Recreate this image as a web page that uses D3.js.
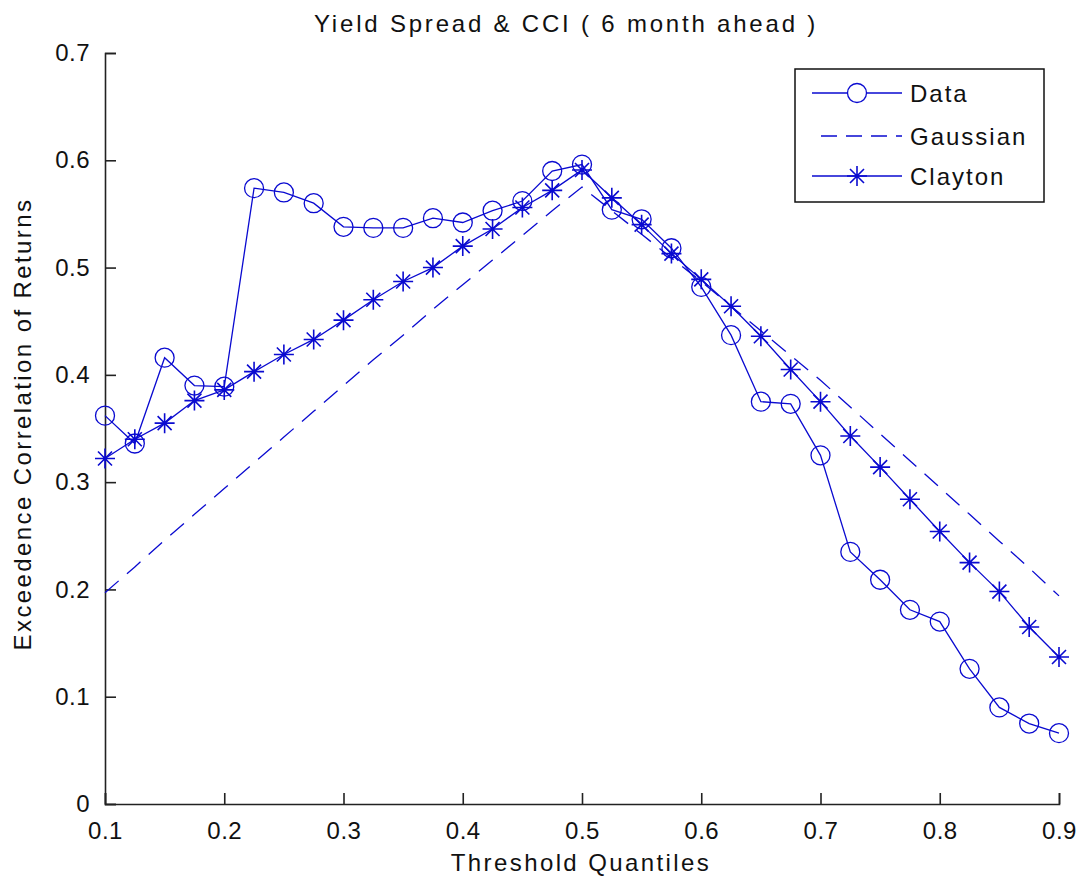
<!DOCTYPE html>
<html>
<head>
<meta charset="utf-8">
<script src="https://cdn.jsdelivr.net/npm/d3@7"></script>
<style>
  body { margin: 0; background: #fff; }
  text { font-family: "Liberation Sans", Arial, sans-serif; fill: #111; }
</style>
</head>
<body>
<script>
// chart size
let width = 1083,
  height = 882

// threshold quantiles (x)
const quantiles = [0.1, 0.125, 0.15, 0.175, 0.2, 0.225, 0.25, 0.275, 0.3, 0.325, 0.35,
  0.375, 0.4, 0.425, 0.45, 0.475, 0.5, 0.525, 0.55, 0.575, 0.6, 0.625, 0.65,
  0.675, 0.7, 0.725, 0.75, 0.775, 0.8, 0.825, 0.85, 0.875, 0.9];

// series values
const dataSeries = [0.362, 0.336, 0.416, 0.390, 0.389, 0.574, 0.570, 0.560, 0.538, 0.537, 0.537,
  0.546, 0.542, 0.553, 0.562, 0.590, 0.596, 0.554, 0.545, 0.518, 0.482, 0.437, 0.375,
  0.373, 0.325, 0.235, 0.209, 0.181, 0.170, 0.126, 0.090, 0.075, 0.066];
const gaussian = [0.197, 0.221, 0.246, 0.270, 0.294, 0.318, 0.342, 0.366, 0.390, 0.414, 0.437,
  0.461, 0.484, 0.507, 0.530, 0.553, 0.575, 0.553, 0.531, 0.509, 0.487, 0.464, 0.441,
  0.418, 0.395, 0.370, 0.345, 0.320, 0.295, 0.270, 0.245, 0.220, 0.194];
const clayton = [0.322, 0.340, 0.355, 0.376, 0.386, 0.403, 0.419, 0.433, 0.451, 0.470, 0.487,
  0.500, 0.520, 0.536, 0.556, 0.572, 0.591, 0.565, 0.540, 0.513, 0.489, 0.464, 0.436,
  0.405, 0.375, 0.343, 0.314, 0.284, 0.254, 0.225, 0.198, 0.165, 0.137];

// tick labels
const xTicks = [0.1, 0.2, 0.3, 0.4, 0.5, 0.6, 0.7, 0.8, 0.9];
const yTicks = [0, 0.1, 0.2, 0.3, 0.4, 0.5, 0.6, 0.7];

const legendNames = ["Data", "Gaussian", "Clayton"];

const blue = "#0a0ad0";

let svg = d3.select("body")
  .append("svg")
  .attr("width", width)
  .attr("height", height);

let x = d3.scaleLinear().domain([0.1, 0.9]).range([105, 1059]);
let y = d3.scaleLinear().domain([0, 0.7]).range([804, 53]);

// axes (MATLAB style, ticks inside, box off)
let xAxis = svg.append("g")
  .attr("transform", "translate(0," + y(0) + ")")
  .call(d3.axisBottom(x).tickValues(xTicks).tickSize(-11).tickPadding(18)
    .tickFormat(d3.format("")));
let yAxis = svg.append("g")
  .attr("transform", "translate(" + x(0.1) + ",0)")
  .call(d3.axisLeft(y).tickValues(yTicks).tickSize(-11).tickPadding(15)
    .tickFormat(d3.format("")));

[xAxis, yAxis].forEach(g => {
  g.select(".domain").attr("stroke", "#222").attr("stroke-width", 1.6);
  g.selectAll(".tick line").attr("stroke", "#222").attr("stroke-width", 1.6);
  g.selectAll(".tick text").style("font-size", "24px").style("letter-spacing", "0.5px")
    .attr("fill", "#111");
});

// titles
svg.append("text")
  .attr("x", 566).attr("y", 32)
  .attr("text-anchor", "middle")
  .style("font-size", "24px")
  .style("letter-spacing", "2.8px")
  .text("Yield Spread & CCI ( 6 month ahead )");

svg.append("text")
  .attr("x", 581).attr("y", 871)
  .attr("text-anchor", "middle")
  .style("font-size", "24px")
  .style("letter-spacing", "2.4px")
  .text("Threshold Quantiles");

svg.append("text")
  .attr("transform", "translate(31,424) rotate(-90)")
  .attr("text-anchor", "middle")
  .style("font-size", "24px")
  .style("letter-spacing", "2.4px")
  .text("Exceedence Correlation of Returns");

// lines
let line = d3.line().x((d, i) => x(quantiles[i])).y(d => y(d));

svg.append("path")
  .datum(gaussian)
  .attr("d", line)
  .attr("fill", "none")
  .attr("stroke", blue)
  .attr("stroke-width", 1.3)
  .attr("stroke-dasharray", "18,11");

svg.append("path")
  .datum(clayton)
  .attr("d", line)
  .attr("fill", "none")
  .attr("stroke", blue)
  .attr("stroke-width", 1.3);

svg.append("path")
  .datum(dataSeries)
  .attr("d", line)
  .attr("fill", "none")
  .attr("stroke", blue)
  .attr("stroke-width", 1.3);

// markers
function drawStar(g, cx, cy) {
  let s = 10, d = 7;
  g.append("path")
    .attr("d", `M${cx},${cy - s}V${cy + s}M${cx - s},${cy}H${cx + s}` +
      `M${cx - d},${cy - d}L${cx + d},${cy + d}M${cx - d},${cy + d}L${cx + d},${cy - d}`)
    .attr("stroke", blue)
    .attr("stroke-width", 1.6)
    .attr("fill", "none");
}

svg.append("g")
  .selectAll("circle")
  .data(dataSeries)
  .join("circle")
  .attr("cx", (d, i) => x(quantiles[i]))
  .attr("cy", d => y(d))
  .attr("r", 9.5)
  .attr("fill", "none")
  .attr("stroke", blue)
  .attr("stroke-width", 1.3);

let stars = svg.append("g");
clayton.forEach((d, i) => drawStar(stars, x(quantiles[i]), y(d)));

// legend
let legend = svg.append("g");
legend.append("rect")
  .attr("x", 795).attr("y", 69)
  .attr("width", 249).attr("height", 133)
  .attr("fill", "#fff")
  .attr("stroke", "#111")
  .attr("stroke-width", 1.5);

let rowsY = [93, 136, 176];
legendNames.forEach((name, i) => {
  let ly = rowsY[i];
  let seg = legend.append("line")
    .attr("x1", i == 1 ? 821 : 812).attr("x2", 902)
    .attr("y1", ly).attr("y2", ly)
    .attr("stroke", blue)
    .attr("stroke-width", 1.3);
  if (i == 1) seg.attr("stroke-dasharray", "16,9");
  if (i == 0) {
    legend.append("circle")
      .attr("cx", 857).attr("cy", ly).attr("r", 9.5)
      .attr("fill", "#fff").attr("stroke", blue).attr("stroke-width", 1.3);
  }
  if (i == 2) drawStar(legend, 857, ly);
  legend.append("text")
    .attr("x", 910).attr("y", ly + 9)
    .style("font-size", "24px")
    .style("letter-spacing", "2px")
    .text(name);
});
</script>
</body>
</html>
